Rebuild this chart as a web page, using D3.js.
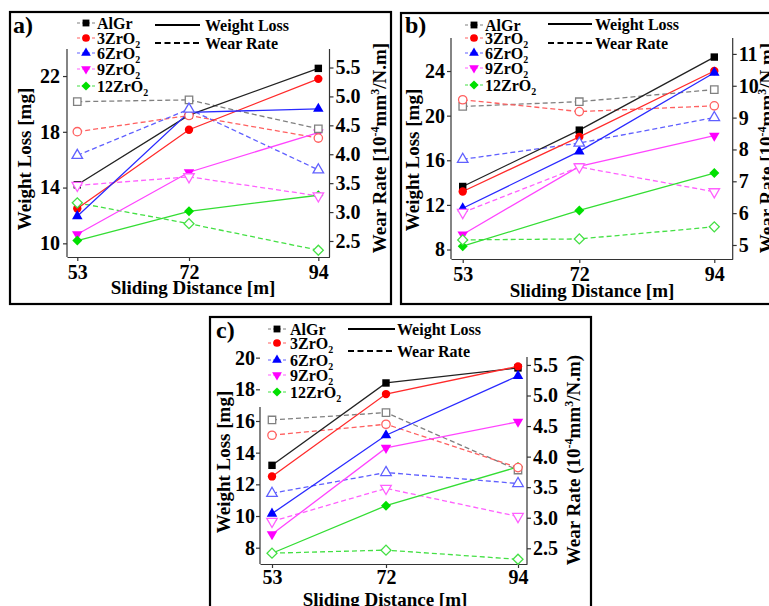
<!DOCTYPE html>
<html><head><meta charset="utf-8">
<script src="https://cdn.jsdelivr.net/npm/d3@7"></script>
<style>
body{margin:0;background:#fff}
svg{display:block}
svg text{font-family:"Liberation Serif","Times New Roman",serif !important;font-weight:bold}
</style>
</head><body>
<svg id="chart" width="769" height="606"></svg>
<script>
// ---------------- DATA ----------------
const distances = [53, 72, 94];
const seriesLabels = ["AlGr", "3ZrO2", "6ZrO2", "9ZrO2", "12ZrO2"];
const xTickValues = [53, 72, 94];

// Panel a
const weightLossA = [[14.2, 19.2, 22.55], [12.5, 18.15, 21.8], [11.95, 19.4, 19.65], [10.65, 15.1, 17.95], [10.2, 12.3, 13.45]];
const wearRateA   = [[4.91, 4.94, 4.44], [4.39, 4.67, 4.28], [3.98, 4.78, 3.73], [3.46, 3.61, 3.28], [3.16, 2.80, 2.34]];
const leftTicksA  = [10, 14, 18, 22];
const rightTicksA = [2.5, 3.0, 3.5, 4.0, 4.5, 5.0, 5.5];

// Panel b
const weightLossB = [[13.65, 18.7, 25.25], [13.2, 18.1, 24.0], [11.7, 16.8, 23.85], [9.35, 15.45, 18.2], [8.3, 11.5, 14.85]];
const wearRateB   = [[9.35, 9.5, 9.88], [9.56, 9.19, 9.37], [7.69, 8.2, 9.0], [6.02, 7.45, 6.67], [5.16, 5.19, 5.57]];
const leftTicksB  = [8, 12, 16, 20, 24];
const rightTicksB = [5, 6, 7, 8, 9, 10, 11];

// Panel c
const weightLossC = [[13.2, 18.4, 19.35], [12.5, 17.7, 19.45], [10.15, 15.1, 18.85], [8.85, 14.3, 15.95], [7.65, 10.65, 13.1]];
const wearRateC   = [[4.6, 4.72, 3.78], [4.35, 4.53, 3.82], [3.4, 3.74, 3.56], [2.94, 3.48, 3.02], [2.42, 2.47, 2.32]];
const leftTicksC  = [8, 10, 12, 14, 16, 18, 20];
const rightTicksC = [2.5, 3.0, 3.5, 4.0, 4.5, 5.0, 5.5];

// ---------------- STYLE ----------------
const FONT = "Liberation Serif";
const solidColors  = ["#222222", "#ff2a2a", "#2a2aff", "#ff44ff", "#33dd33"];
const markerColors = ["#000000", "#ff0000", "#0000ff", "#ff00ff", "#00e000"];
const openColors   = ["#808080", "#ff6060", "#6060ff", "#ff60ff", "#44e044"];

const svg = d3.select("#chart");

function drawMarker(g, i, x, y, filled, k) {
  k = k || 1;
  let type, size, rot = 0;
  if (i === 0) { type = d3.symbolSquare; size = 55; }
  else if (i === 1) { type = d3.symbolCircle; size = 55; }
  else if (i === 2) { type = d3.symbolTriangle; size = 48; }
  else if (i === 3) { type = d3.symbolTriangle; size = 48; rot = 180; }
  else { type = d3.symbolSquare; size = 50; rot = 45; }
  const p = g.append("path")
    .attr("d", d3.symbol(type, size * k)())
    .attr("transform", `translate(${x},${y}) rotate(${rot})`);
  if (filled) p.attr("fill", markerColors[i]).attr("stroke", "none");
  else p.attr("fill", "#fff").attr("stroke", openColors[i]).attr("stroke-width", 1.3);
}

function styleAxis(a, size) {
  a.attr("font-family", FONT).attr("font-size", size).attr("font-weight", "bold");
  a.selectAll("text").attr("fill", "#000");
  a.selectAll("line").attr("stroke", "#333").attr("stroke-width", 1.2);
  a.select(".domain").attr("stroke", "#333").attr("stroke-width", 1.2);
}

function addLabel(textSel, label, mainSize) {
  const m = label.match(/^(.*O)(2)$/);
  if (m) {
    textSel.append("tspan").text(m[1]);
    textSel.append("tspan").attr("font-size", mainSize * 0.62).attr("dy", 4).text(m[2]);
  } else textSel.text(label);
}

function drawPanel(cfg, wl, wr, leftTicks, rightTicks, rightFmt) {
  const g = svg.append("g");
  g.append("rect").attr("x", cfg.border[0]).attr("y", cfg.border[1])
    .attr("width", cfg.border[2]).attr("height", cfg.border[3])
    .attr("fill", "none").attr("stroke", "#000").attr("stroke-width", 2.2);

  const x = d3.scaleLinear().domain(cfg.xDom).range(cfg.xRange);
  const yL = d3.scaleLinear().domain(cfg.leftDom).range([cfg.bottom, cfg.top]);
  const yR = d3.scaleLinear().domain(cfg.rightDom).range([cfg.bottom, cfg.top]);

  // axes
  const ab = g.append("g").attr("transform", `translate(0,${cfg.bottom})`)
    .call(d3.axisBottom(x).tickValues(xTickValues).tickSize(4).tickSizeOuter(0).tickPadding(cfg.xPad).tickFormat(d3.format("d")));
  styleAxis(ab, 20);
  const al = g.append("g").attr("transform", `translate(${cfg.xRange[0]},0)`)
    .call(d3.axisLeft(yL).tickValues(leftTicks).tickSize(4).tickSizeOuter(0).tickPadding(cfg.leftPad).tickFormat(d3.format("d")));
  styleAxis(al, 20);
  al.select(".domain").attr("d", `M0,${cfg.leftAxisTop}V${cfg.bottom}`);
  const ar = g.append("g").attr("transform", `translate(${cfg.xRange[1]},0)`)
    .call(d3.axisRight(yR).tickValues(rightTicks).tickSize(4).tickSizeOuter(0).tickPadding(cfg.rightPad).tickFormat(d3.format(rightFmt)));
  styleAxis(ar, 20);
  ar.select(".domain").attr("d", `M0,${cfg.rightAxisTop}V${cfg.bottom}`);

  // titles
  g.append("text").attr("x", cfg.xTitleX).attr("y", cfg.xTitleY).attr("text-anchor", "middle")
    .attr("font-size", 19).text("Sliding Distance [m]");
  g.append("text").attr("transform", `translate(${cfg.leftTitleX},${cfg.leftTitleY}) rotate(-90)`)
    .attr("text-anchor", "middle").attr("font-size", 19)
    .text("Weight Loss [mg]");
  const rt = g.append("text").attr("transform", `translate(${cfg.rightTitleX},${cfg.rightTitleY}) rotate(-90)`)
    .attr("text-anchor", "middle").attr("font-size", 19);
  rt.append("tspan").text("Wear Rate " + cfg.br[0] + "10");
  rt.append("tspan").attr("font-size", 12).attr("dy", -7).text("-4");
  rt.append("tspan").attr("dy", 7).text("mm");
  rt.append("tspan").attr("font-size", 12).attr("dy", -7).text("3");
  rt.append("tspan").attr("dy", 7).text("/N.m" + cfg.br[1]);

  g.append("text").attr("x", cfg.labelX).attr("y", cfg.labelY)
    .attr("font-size", 24).text(cfg.label);

  // lines
  const lineL = d3.line().x((d, j) => x(distances[j])).y(d => yL(d));
  const lineR = d3.line().x((d, j) => x(distances[j])).y(d => yR(d));
  wr.forEach((s, i) => {
    g.append("path").attr("d", lineR(s)).attr("fill", "none").attr("stroke", openColors[i])
      .attr("stroke-width", 1.3).attr("stroke-dasharray", "5,3");
  });
  wl.forEach((s, i) => {
    g.append("path").attr("d", lineL(s)).attr("fill", "none").attr("stroke", solidColors[i])
      .attr("stroke-width", 1.3);
  });
  wl.forEach((s, i) => s.forEach((v, j) => drawMarker(g, i, x(distances[j]), yL(v), true)));
  wr.forEach((s, i) => s.forEach((v, j) => drawMarker(g, i, x(distances[j]), yR(v), false)));

  // legend
  seriesLabels.forEach((lab, i) => {
    const yy = cfg.legRows[i];
    g.append("line").attr("x1", cfg.legMX - 9).attr("x2", cfg.legMX + 9).attr("y1", yy).attr("y2", yy)
      .attr("stroke", openColors[i]).attr("stroke-width", 1.2).attr("stroke-dasharray", "3,2");
    drawMarker(g, i, cfg.legMX, yy, true, 0.85);
    const t = g.append("text").attr("x", cfg.legTX).attr("y", yy + 5.5).attr("font-size", 16);
    addLabel(t, lab, 16);
  });
  g.append("line").attr("x1", cfg.lineX[0]).attr("x2", cfg.lineX[1]).attr("y1", cfg.lineY[0]).attr("y2", cfg.lineY[0])
    .attr("stroke", "#000").attr("stroke-width", 2);
  g.append("line").attr("x1", cfg.lineX[0]).attr("x2", cfg.lineX[1]).attr("y1", cfg.lineY[1]).attr("y2", cfg.lineY[1])
    .attr("stroke", "#000").attr("stroke-width", 2).attr("stroke-dasharray", "6,3.5");
  g.append("text").attr("x", cfg.lineTX).attr("y", cfg.lineY[0] + 5.5).attr("font-size", 16).text("Weight Loss");
  g.append("text").attr("x", cfg.lineTX).attr("y", cfg.lineY[1] + 5.5).attr("font-size", 16).text("Wear Rate");
}

drawPanel({
  border: [10, 12, 381, 292], xRange: [67, 329.5], xDom: [51.25, 95.9], top: 49, bottom: 257,
  leftDom: [9.02, 23.94], rightDom: [2.223, 5.82], leftAxisTop: 49, rightAxisTop: 49,
  xPad: 3.5, leftPad: 3, rightPad: 2, label: "a)", labelX: 13, labelY: 33,
  legMX: 86, legTX: 97, legRows: [23, 38, 53, 69, 86], lineX: [155, 200], lineY: [25, 43], lineTX: 205,
  leftTitleX: 31, leftTitleY: 159, rightTitleX: 386, rightTitleY: 148, xTitleX: 193, xTitleY: 294, br: ["[", "]"]
}, weightLossA, wearRateA, leftTicksA, rightTicksA, ".1f");

drawPanel({
  border: [401, 13, 420, 291], xRange: [451, 732.7], xDom: [51.09, 97.0], top: 38, bottom: 259,
  leftDom: [7.15, 26.96], rightDom: [4.56, 11.5], leftAxisTop: 38, rightAxisTop: 38,
  xPad: 3.5, leftPad: 2, rightPad: 2, label: "b)", labelX: 405, labelY: 33,
  legMX: 474, legTX: 485, legRows: [25, 38, 53, 68, 85], lineX: [548, 592], lineY: [24, 43], lineTX: 595,
  leftTitleX: 419, leftTitleY: 160, rightTitleX: 773, rightTitleY: 148, xTitleX: 592, xTitleY: 297, br: ["[", "]"]
}, weightLossB, wearRateB, leftTicksB, rightTicksB, "d");

drawPanel({
  border: [210, 317, 381, 300], xRange: [260, 527], xDom: [51.0, 95.5], top: 357, bottom: 564,
  leftDom: [6.97, 20.04], rightDom: [2.243, 5.63], leftAxisTop: 407, rightAxisTop: 357,
  xPad: 1.5, leftPad: 1, rightPad: 2, label: "c)", labelX: 216, labelY: 338,
  legMX: 277, legTX: 290, legRows: [329, 343, 360, 375, 392], lineX: [348, 395], lineY: [329, 351], lineTX: 397,
  leftTitleX: 230, leftTitleY: 462, rightTitleX: 580, rightTitleY: 460, xTitleX: 385, xTitleY: 606, br: ["(", ")"]
}, weightLossC, wearRateC, leftTicksC, rightTicksC, ".1f");
</script>
</body></html>
